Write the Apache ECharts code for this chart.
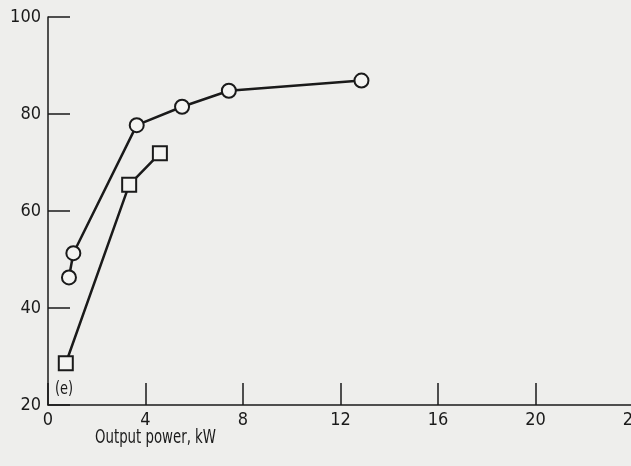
<!DOCTYPE html>
<html><head><meta charset="utf-8">
<script src="https://cdn.jsdelivr.net/npm/echarts@6/dist/echarts.min.js"></script>
<style>html,body{margin:0;padding:0;background:#eeeeec;}#c{width:631px;height:466px;}</style>
</head><body><div id="c"></div>
<script>
var circleX = [0.86, 1.04, 3.64, 5.5, 7.42, 12.86];
var circleY = [46.3, 51.3, 77.7, 81.5, 84.8, 86.9];
var squareX = [0.73, 3.33, 4.59];
var squareY = [28.6, 65.4, 71.9];
var xTicks = [0, 4, 8, 12, 16, 20, 24];
var yTicks = [20, 40, 60, 80, 100];
var xTitle = 'Output power, kW';
var panelLabel = '(e)';

function pairs(xs, ys){ return xs.map(function(x,i){ return [x, ys[i]]; }); }
var font = '"DejaVu Sans Condensed","DejaVu Sans",sans-serif';
var ink = '#1a1a1a';
var chart = echarts.init(document.getElementById('c'));
chart.setOption({
  backgroundColor: '#eeeeec',
  animation: false,
  grid: {left: 48, top: 17, width: 585, height: 388, containLabel: false, outerBoundsMode: 'none'},
  xAxis: {
    type: 'value', min: 0, max: 24, interval: 4,
    axisLine: {show: true, lineStyle: {color: ink, width: 1.5}},
    axisTick: {show: true, inside: true, length: 22, lineStyle: {color: ink, width: 1.5}},
    axisLabel: {color: ink, fontFamily: font, fontSize: 18, margin: 6, hideOverlap: false,
      formatter: function(v){ return xTicks.indexOf(v) >= 0 ? String(v) : ''; }},
    splitLine: {show: false}
  },
  yAxis: {
    type: 'value', min: 20, max: 100, interval: 20,
    axisLine: {show: true, lineStyle: {color: ink, width: 1.5}},
    axisTick: {show: true, inside: true, length: 22, lineStyle: {color: ink, width: 1.5}},
    axisLabel: {color: ink, fontFamily: font, fontSize: 18, margin: 7,
      formatter: function(v){ return yTicks.indexOf(v) >= 0 ? String(v) : ''; }},
    splitLine: {show: false}
  },
  graphic: [
    {type: 'text', x: 55, y: 381, scaleX: 0.85, style: {text: panelLabel, fill: ink, font: '17px ' + font}},
    {type: 'text', x: 95, y: 428, scaleX: 0.74, style: {text: xTitle, fill: ink, font: '20px ' + font}}
  ],
  series: [
    {type: 'line', data: pairs(circleX, circleY), symbol: 'circle', symbolSize: 14,
     lineStyle: {color: ink, width: 2.5}, itemStyle: {color: '#f4f4f2', borderColor: ink, borderWidth: 2}},
    {type: 'line', data: pairs(squareX, squareY), symbol: 'rect', symbolSize: 14,
     lineStyle: {color: ink, width: 2.5}, itemStyle: {color: '#f4f4f2', borderColor: ink, borderWidth: 2}}
  ]
});
</script></body></html>
